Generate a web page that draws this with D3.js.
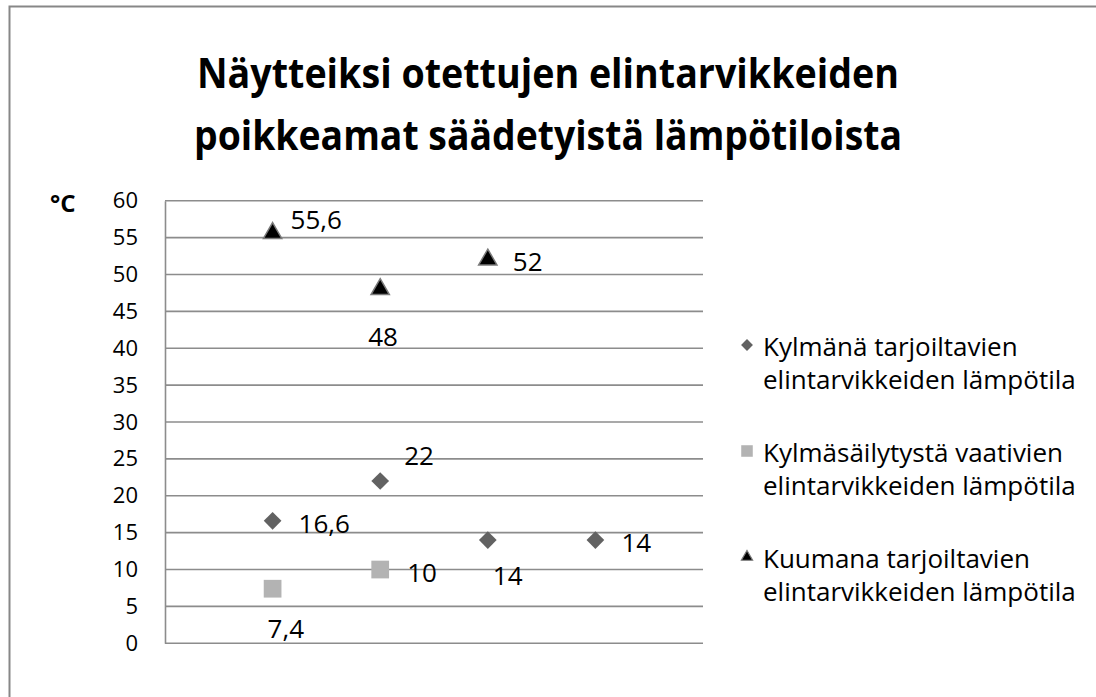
<!DOCTYPE html>
<html>
<head>
<meta charset="utf-8">
<script src="https://cdn.jsdelivr.net/npm/d3@7"></script>
<style>
  html, body { margin: 0; background: #fff; overflow: hidden; }
  svg { display: block; }
  svg text { font-family: "Open Sans", "Liberation Sans", sans-serif; fill: #000; }
</style>
</head>
<body>
<svg id="chart" width="1096" height="697"></svg>
<script>
// Data
const titleLines = ["Näytteiksi otettujen elintarvikkeiden", "poikkeamat säädetyistä lämpötiloista"];
const yTicks = [0, 5, 10, 15, 20, 25, 30, 35, 40, 45, 50, 55, 60];
const seriesNames = [
    ["Kylmänä tarjoiltavien", "elintarvikkeiden lämpötila"],
    ["Kylmäsäilytystä vaativien", "elintarvikkeiden lämpötila"],
    ["Kuumana tarjoiltavien", "elintarvikkeiden lämpötila"]
];
const coldServedX = [1, 2, 3, 4];
const coldServed = [16.6, 22, 14, 14];
const coldStoredX = [1, 2];
const coldStored = [7.4, 10];
const hotServedX = [1, 2, 3];
const hotServed = [55.6, 48, 52];

// label placement (dx from marker, dy from marker centre)
const coldServedLab = [[26, 2], [24, -26], [5, 35], [26, 2]];
const coldStoredLab = [[-5, 39], [27, 2]];
const hotServedLab = [[18, -14], [-12, 47], [25, 1]];

const svg = d3.select("#chart");

// outer frame (only top and left edges are inside the picture)
svg.append("path")
    .attr("d", "M9.5,697V6.5H1096")
    .attr("fill", "none").attr("stroke", "#878787").attr("stroke-width", 2);

// Title
svg.selectAll(".title")
    .data(titleLines)
    .enter()
    .append("text")
    .attr("class", "title")
    .attr("x", 548)
    .attr("y", (d, i) => 88 + i * 62)
    .attr("text-anchor", "middle")
    .attr("font-size", 42)
    .attr("font-weight", "bold")
    .attr("textLength", (d, i) => i === 0 ? 702 : 708)
    .attr("lengthAdjust", "spacingAndGlyphs")
    .text(d => d);

var margin = { top: 200.7, left: 165 };
var width = 703 - 165;
var height = 643.3 - 200.7;

const g = svg.append("g")
    .attr("transform", "translate(" + margin.left + "," + margin.top + ")");

var x = d3.scaleLinear().domain([0, 5]).range([0, width]);
var y = d3.scaleLinear().domain([0, 60]).range([height, 0]);

// gridlines
g.selectAll(".grid")
    .data(yTicks)
    .enter()
    .append("line")
    .attr("x1", 0).attr("x2", width)
    .attr("y1", d => y(d)).attr("y2", d => y(d))
    .attr("stroke", "#8c8c8c").attr("stroke-width", 1.6);

// y axis
const yAxis = g.append("g")
    .call(d3.axisLeft(y).tickValues(yTicks).tickSize(0).tickPadding(27));
yAxis.select(".domain").attr("stroke", "#8c8c8c").attr("stroke-width", 1.6);
yAxis.selectAll("text")
    .attr("font-size", 22)
    .attr("font-family", "Open Sans")
    .attr("fill", "#000");

// unit label
svg.append("text")
    .attr("x", 50).attr("y", 212)
    .attr("font-size", 24)
    .attr("font-weight", "bold")
    .text("°C");

const diamond = d3.symbol().type(d3.symbolDiamond2).size(200)();
const square = d3.symbol().type(d3.symbolSquare2).size(400)();
const triangle = d3.symbol().type(d3.symbolTriangle2).size(240)();

function drawSeries(xs, vals, labs, path, fill, stroke) {
    const pts = vals.map((v, i) => ({ x: xs[i], v: v, lab: labs[i] }));
    g.selectAll(null)
        .data(pts)
        .enter()
        .append("path")
        .attr("d", path)
        .attr("transform", d => "translate(" + x(d.x) + "," + y(d.v) + ")")
        .attr("fill", fill)
        .attr("stroke", stroke)
        .attr("stroke-width", stroke === "none" ? 0 : 1.5);
    g.selectAll(null)
        .data(pts)
        .enter()
        .append("text")
        .attr("x", d => x(d.x) + d.lab[0])
        .attr("y", d => y(d.v) + d.lab[1])
        .attr("dominant-baseline", "central")
        .attr("font-size", 26)
        .text(d => String(d.v).replace(".", ","));
}

drawSeries(coldServedX, coldServed, coldServedLab, diamond, "#626262", "none");
drawSeries(coldStoredX, coldStored, coldStoredLab, square, "#b3b3b3", "none");
drawSeries(hotServedX, hotServed, hotServedLab, triangle, "#000", "#7a7a7a");

// Legend
const legendItems = [
    { name: seriesNames[0], path: d3.symbol().type(d3.symbolDiamond2).size(90)(), fill: "#626262", stroke: "none" },
    { name: seriesNames[1], path: d3.symbol().type(d3.symbolSquare2).size(170)(), fill: "#b3b3b3", stroke: "none" },
    { name: seriesNames[2], path: d3.symbol().type(d3.symbolTriangle2).size(90)(), fill: "#000", stroke: "#7a7a7a" }
];
const legend = svg.selectAll(".legend")
    .data(legendItems)
    .enter()
    .append("g")
    .attr("transform", (d, i) => "translate(747," + (345 + i * 106) + ")");
legend.append("path")
    .attr("d", d => d.path)
    .attr("fill", d => d.fill)
    .attr("stroke", d => d.stroke)
    .attr("stroke-width", 1.2);
legend.selectAll("text")
    .data(d => d.name)
    .enter()
    .append("text")
    .attr("x", 16)
    .attr("y", (d, i) => 1 + i * 33)
    .attr("dominant-baseline", "central")
    .attr("font-size", 26)
    .text(d => d);
</script>
</body>
</html>
